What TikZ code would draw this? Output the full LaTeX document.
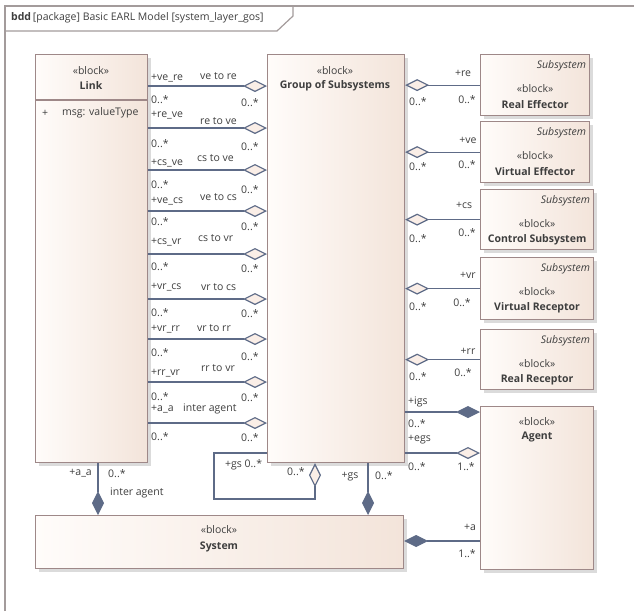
\documentclass[tikz,border=0pt]{standalone}
\usepackage{fontspec}
\setmainfont{Open Sans}
\usetikzlibrary{arrows.meta,shadows}

\definecolor{frameline}{HTML}{A39B9B}
\definecolor{blockline}{HTML}{9E8888}
\definecolor{blockL}{HTML}{FFFCFA}
\definecolor{blockR}{HTML}{F3E4DA}
\definecolor{conn}{HTML}{5E6B87}
\definecolor{txt}{HTML}{3E3E3E}
\definecolor{hollowfill}{HTML}{FAEEE7}

\tikzset{
  block/.style={draw=blockline, line width=1.2pt, left color=blockL, right color=blockR,
    anchor=north west, inner sep=0pt,
    general shadow={fill=black!14, shadow xshift=3pt, shadow yshift=-3pt}},
  txtc/.style={font=\fontsize{10.5}{12}\selectfont, text=txt, inner sep=0pt},
  txtw/.style={txtc, anchor=west},
  txte/.style={txtc, anchor=east},
  stereo/.style={txtc},
  bname/.style={txtc, font=\fontsize{10.5}{12}\selectfont\bfseries},
  kind/.style={txtc, anchor=east, font=\fontsize{10.5}{12}\selectfont\itshape},
  assoc/.style={draw=conn, line width=1.2pt},
  aggr/.style={{Diamond[length=24pt,width=12pt,fill=hollowfill]}-},
  aggrend/.style={-{Diamond[length=24pt,width=12pt,fill=hollowfill]}},
  comp/.style={{Diamond[length=24pt,width=12pt]}-},
  compend/.style={-{Diamond[length=24pt,width=12pt]}},
}

\begin{document}
\begin{tikzpicture}[x=1pt,y=-1pt]
\useasboundingbox (0,0) rectangle (634,611);

% diagram frame and its header tab
\draw[frameline, line width=1.5pt] (5,611) -- (5,6) -- (634,6);
\draw[frameline, line width=1.2pt] (5,31) -- (277,31) -- (293,16) -- (293,6);
\node[txtw] (title) at (11,18) {\textbf{bdd}\,[package] Basic EARL Model [system\_layer\_gos]};

% blocks
\node[block, minimum width=112pt, minimum height=408pt] (link)   at (35,54)  {};
\node[block, minimum width=137pt, minimum height=408pt] (group)  at (267,54) {};
\node[block, minimum width=109pt, minimum height=61pt]  (re)     at (480,54) {};
\node[block, minimum width=109pt, minimum height=61pt]  (ve)     at (480,121) {};
\node[block, minimum width=113pt, minimum height=60pt]  (cs)     at (480,189) {};
\node[block, minimum width=113pt, minimum height=62pt]  (vr)     at (480,257) {};
\node[block, minimum width=113pt, minimum height=60pt]  (rr)     at (480,329) {};
\node[block, minimum width=113pt, minimum height=163pt] (agent)  at (480,406) {};
\node[block, minimum width=368pt, minimum height=53pt]  (system) at (35,515) {};

% block texts
\node[stereo] (linkst) at (91,71) {«block»};
\node[bname]  (linknm) at (91,86) {Link};
\coordinate (sepy) at (0,100);
\draw[blockline, line width=1.2pt] (link.west |- sepy) -- (link.east |- sepy);
\node[txtw] (attrvis) at (42,113) {+};
\node[txtw] (attr) at (62,113) {msg: valueType};

\node[stereo] (groupst) at (335,71) {«block»};
\node[bname]  (groupnm) at (335,86) {Group of Subsystems};

\foreach \b/\nm in {re/Real Effector, ve/Virtual Effector, cs/Control Subsystem,
                    vr/Virtual Receptor, rr/Real Receptor} {
  \node[kind] (\b kind) at ([xshift=-4pt,yshift=-12pt]\b.north east) {Subsystem};
  \node[stereo] (\b st) at ([yshift=-35pt]\b.north) {«block»};
  \node[bname] (\b nm) at ([yshift=-51pt]\b.north) {\nm};
}

\node[stereo] (agentst) at (537,422) {«block»};
\node[bname]  (agentnm) at (537,437) {Agent};
\node[stereo] (systemst) at (219,530) {«block»};
\node[bname]  (systemnm) at (219,547) {System};

% associations from Link to Group of Subsystems
\foreach \i/\ly/\role/\ry/\nm/\nx/\ny/\ml/\mr in {
    1/86/{+ve\_re}/78/{ve to re}/200/76/100/103,
    2/128/{+re\_ve}/115/{re to ve}/200/121/144/147,
    3/170/{+cs\_ve}/163/{cs to ve}/197/158/185/190,
    4/211/{+ve\_cs}/201/{ve to cs}/200/197/222/227,
    5/254/{+cs\_vr}/242/{cs to vr}/198/238/267/269,
    6/299/{+vr\_cs}/287/{vr to cs}/201/287/313/314,
    7/339/{+vr\_rr}/329/{vr to rr}/197/328/353/357,
    8/382/{+rr\_vr}/373/{rr to vr}/201/368/397/398,
    9/423/{+a\_a}/409/{inter agent}/183/409/437/438} {
  \coordinate (lg\i) at (0,\ly);
  \draw[assoc, aggrend] (link.east |- lg\i) -- (group.west |- lg\i);
  \node[txtw] (lgrole\i) at (151,\ry) {\role};
  \node[txtw] (lgname\i) at (\nx,\ny) {\nm};
  \node[txtw] (lgml\i) at (151,\ml) {0..*};
  \node[txtw] (lgmr\i) at (241,\mr) {0..*};
}

% associations from Group of Subsystems to the subsystems
\foreach \b/\role/\rx/\ry/\ml/\mrx/\mr in {
    re/+re/463/73/102/467/100,
    ve/+ve/468/140/167/467/165,
    cs/+cs/464/205/239/467/233,
    vr/+vr/468/275/307/462/303,
    rr/+rr/468/351/377/463/373} {
  \draw[assoc, aggr] (group.east |- \b.west) -- (\b.west);
  \node[txtc] (\b role) at (\rx,\ry) {\role};
  \node[txtw] (\b ml) at (409,\ml) {0..*};
  \node[txtc] (\b mr) at (\mrx,\mr) {0..*};
}

% Group of Subsystems to Agent
\coordinate (igsy) at (0,412);
\coordinate (egsy) at (0,453);
\draw[assoc, compend] (group.east |- igsy) -- (agent.west |- igsy);
\draw[assoc, aggrend] (group.east |- egsy) -- (agent.west |- egsy);
\node[txtw] (igsrole) at (408,402) {+igs};
\node[txtw] (igsml) at (408,424) {0..*};
\node[txtw] (egsrole) at (408,440) {+egs};
\node[txtw] (egsml) at (408,467) {0..*};
\node[txtc] (egsmr) at (466,467) {1..*};

% System to Agent
\coordinate (ay) at (0,541);
\draw[assoc, comp] (system.east |- ay) -- (agent.west |- ay);
\node[txtc] (arole) at (470,527) {+a};
\node[txtc] (amr) at (467,554) {1..*};

% Link to System
\coordinate (lsx) at (98,0);
\draw[assoc, compend] (link.south -| lsx) -- (system.north -| lsx);
\node[txte] (lsrole) at (92,473) {+a\_a};
\node[txtw] (lsml) at (108,474) {0..*};
\node[txtw] (lsname) at (110,493) {inter agent};

% Group of Subsystems to System
\coordinate (gsx) at (368,0);
\draw[assoc, compend] (group.south -| gsx) -- (system.north -| gsx);
\node[txtc] (gsrole) at (350,477) {+gs};
\node[txtw] (gsml) at (375,476) {0..*};

% Group of Subsystems self association
\coordinate (selfy) at (0,453);
\coordinate (selfa) at (214,499);
\coordinate (selfb) at (315,499);
\draw[assoc, aggrend] (group.west |- selfy) -| (selfa) -- (selfb) -- (group.south -| selfb);
\node[txtw] (selfrole) at (225,465) {+gs 0..*};
\node[txtw] (selfml) at (287,472) {0..*};

\end{tikzpicture}
\end{document}
